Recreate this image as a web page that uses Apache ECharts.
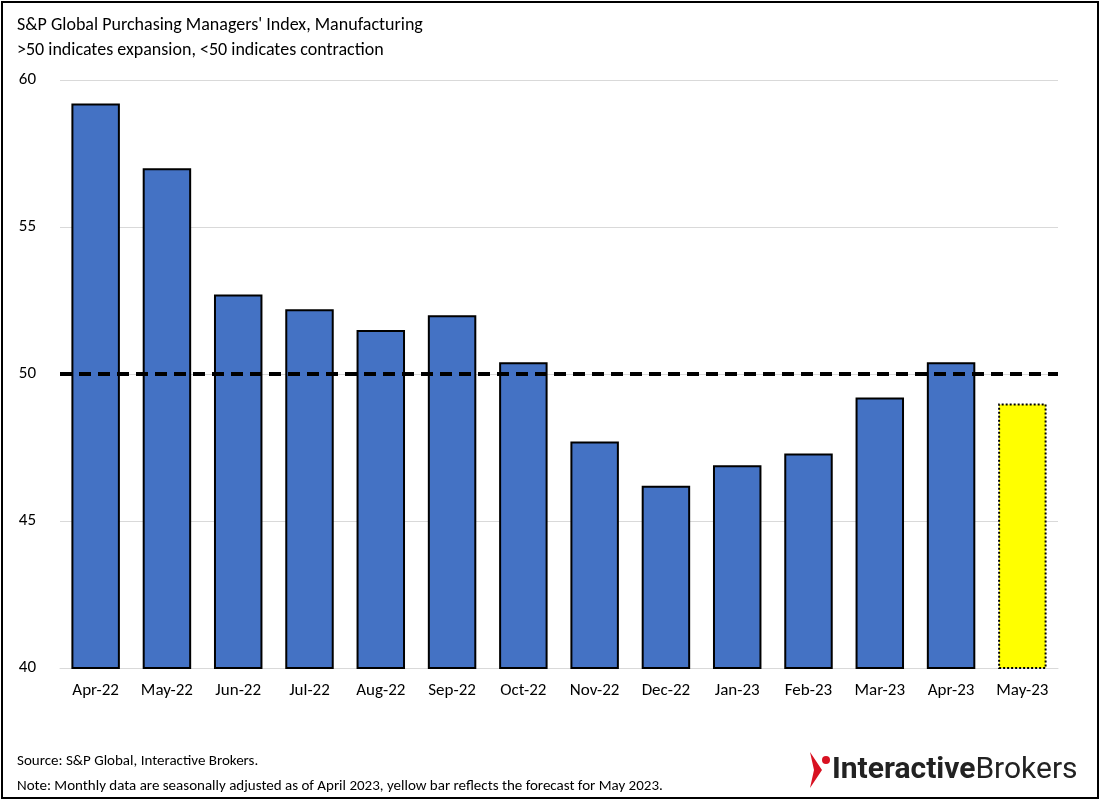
<!DOCTYPE html>
<html>
<head>
<meta charset="utf-8">
<script src="https://cdn.jsdelivr.net/npm/echarts@6/dist/echarts.min.js"></script>
<style>
  html, body { margin: 0; padding: 0; background: #fff; }
  #frame { position: absolute; left: 1px; top: 1px; width: 1094px; height: 794px; border: 2px solid #000; }
  #chart { width: 1100px; height: 800px; }
</style>
</head>
<body>
<div id="frame"></div>
<div id="chart"></div>
<script>
// PMI manufacturing, monthly
const months = ['Apr-22', 'May-22', 'Jun-22', 'Jul-22', 'Aug-22', 'Sep-22', 'Oct-22',
  'Nov-22', 'Dec-22', 'Jan-23', 'Feb-23', 'Mar-23', 'Apr-23', 'May-23']
const pmi = [59.2, 57.0, 52.7, 52.2, 51.5, 52.0, 50.4, 47.7, 46.2, 46.9, 47.3, 49.2, 50.4, 49.0]
const forecastIndex = 13
const threshold = 50
const yTicks = [40, 45, 50, 55, 60]

let chart = echarts.init(document.getElementById('chart'))
let font = 'Calibri, Carlito, "Liberation Sans", Arial, sans-serif'

let barData = pmi.map(function(v, i) {
  if (i === forecastIndex) {
    return { value: v, itemStyle: { color: '#FFFF00', borderColor: '#000', borderWidth: 2, borderType: 'dotted' } }
  }
  return v
})

chart.setOption({
  animation: false,
  textStyle: { fontFamily: font },
  title: [
    {
      text: "S&P Global Purchasing Managers' Index, Manufacturing\n>50 indicates expansion, <50 indicates contraction",
      left: 12, top: 8,
      textStyle: { fontSize: 18, fontWeight: 'normal', color: '#000', lineHeight: 25, fontFamily: font }
    },
    {
      text: 'Source: S&P Global, Interactive Brokers.\nNote: Monthly data are seasonally adjusted as of April 2023, yellow bar reflects the forecast for May 2023.',
      left: 12, top: 744,
      textStyle: { fontSize: 15, fontWeight: 'normal', color: '#000', lineHeight: 25, fontFamily: font }
    }
  ],
  graphic: [
    { type: 'polygon', shape: { points: [[810, 752], [822, 770], [810, 788], [814, 770]] }, style: { fill: '#D81222' } },
    { type: 'circle', shape: { cx: 826, cy: 760, r: 4 }, style: { fill: '#D81222' } },
    {
      type: 'text', left: 832, top: 755,
      style: {
        text: '{a|Interactive}{b|Brokers}',
        rich: {
          a: { fontSize: 30, fontWeight: 'bold', fill: '#222', fontFamily: 'Roboto, sans-serif' },
          b: { fontSize: 30, fill: '#222', fontFamily: 'Roboto, sans-serif' }
        }
      }
    }
  ],
  grid: { left: 60, right: 42, top: 80, bottom: 132 },
  xAxis: {
    type: 'category',
    data: months,
    axisTick: { show: false },
    axisLine: { lineStyle: { color: '#d9d9d9' } },
    axisLabel: { color: '#000', fontSize: 17, margin: 14 }
  },
  yAxis: {
    type: 'value',
    min: yTicks[0], max: yTicks[yTicks.length - 1], interval: 5,
    axisLabel: { color: '#000', fontSize: 17, margin: 24 },
    splitLine: { lineStyle: { color: '#d9d9d9' } }
  },
  series: [{
    type: 'bar',
    data: barData,
    barCategoryGap: '32%',
    itemStyle: { color: '#4472C4', borderColor: '#000', borderWidth: 2 },
    markLine: {
      silent: true,
      symbol: 'none',
      label: { show: false },
      lineStyle: { color: '#000', width: 4, type: [12, 7] },
      data: [{ yAxis: threshold }]
    }
  }]
})
</script>
</body>
</html>
